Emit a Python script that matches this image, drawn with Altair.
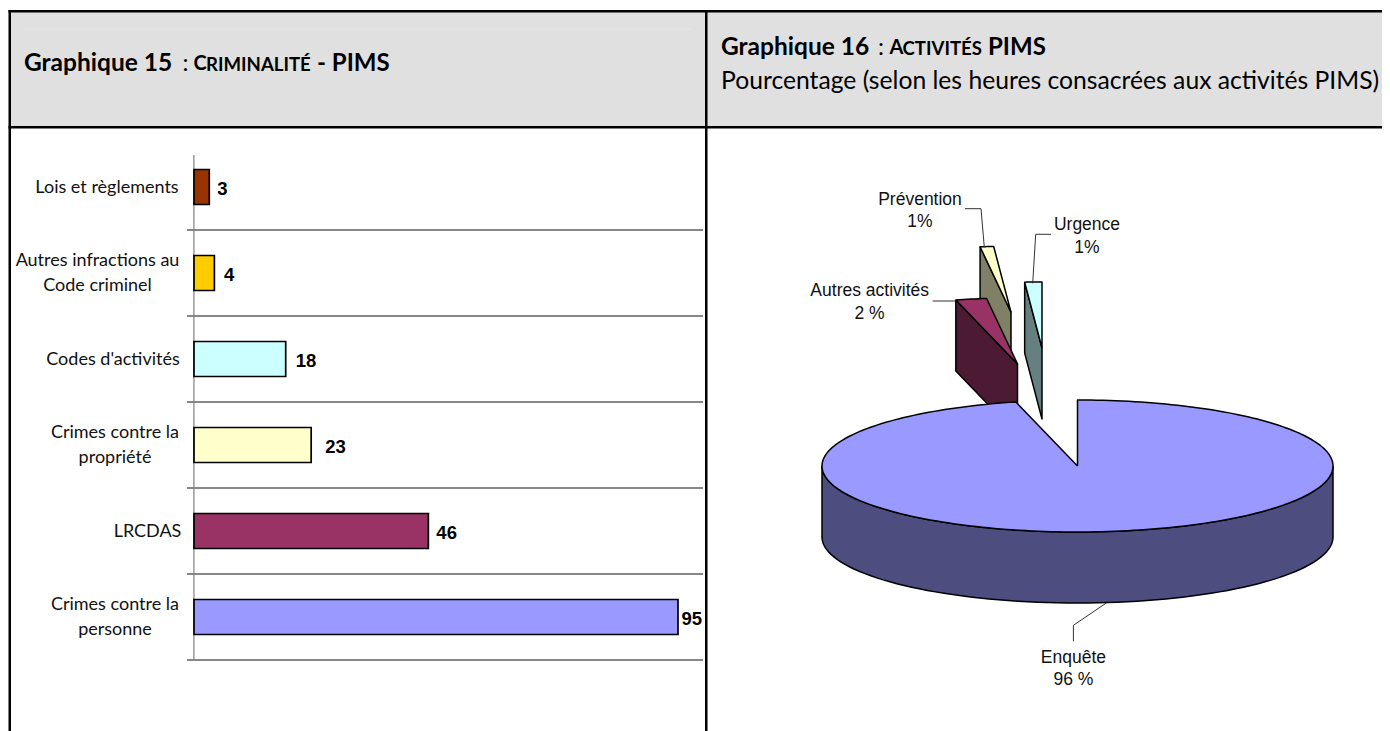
import math
import altair as alt
import pandas as pd

# ---- data ----
bar_categories = ["Lois et règlements", "Autres infractions au\nCode criminel", "Codes d'activités",
                  "Crimes contre la\npropriété", "LRCDAS", "Crimes contre la\npersonne"]
bar_values = [3, 4, 18, 23, 46, 95]
bar_colors = ["#993300", "#FFCC00", "#CCFFFF", "#FFFFCC", "#993366", "#9999FF"]
bar_label_centers = [107, 97.5, 113, 115, 147.5, 115]
bar_label_gaps = [8, 9.6, 10, 14, 8, 3.5]

pie_names = ["Enquête", "Autres activités", "Prévention", "Urgence"]
pie_values = [96.12, 1.95, 0.85, 1.08]
pie_tops = ["#9999FF", "#993366", "#FFFFCC", "#CCFFFF"]
pie_sides = ["#4D4D80", "#4D1A33", "#808066", "#668080"]

# ---- layout, in page pixels ----
OX, OY = 8, 8
W, H = 1374, 723
CX, CY, RX, RY, DEPTH = 1077.5, 466, 255.5, 66, 71
EXPLODE = [(0, 0), (-60, -102), (-66.5, -153.7), (-35.5, -118)]


def rect_layer(rows, color):
    df = pd.DataFrame(rows, columns=["x0", "x1", "y0", "y1"])
    for c in ("x0", "x1"):
        df[c] -= OX
    for c in ("y0", "y1"):
        df[c] -= OY
    return alt.Chart(df).mark_rect(color=color).encode(
        x=alt.X("x0:Q", scale=None, axis=None), x2="x1:Q",
        y=alt.Y("y0:Q", scale=None, axis=None), y2="y1:Q")


def poly_layer(points, fill, stroke="#000000", sw=1.5):
    pts = list(points) + [points[0]]
    df = pd.DataFrame({"x": [p[0] - OX for p in pts], "y": [p[1] - OY for p in pts], "i": range(len(pts))})
    return alt.Chart(df).mark_line(fill=fill, stroke=stroke, strokeWidth=sw, strokeJoin="round").encode(
        x=alt.X("x:Q", scale=None, axis=None), y=alt.Y("y:Q", scale=None, axis=None), order="i:Q")


def path_layer(points, stroke="#333333", sw=1):
    df = pd.DataFrame({"x": [p[0] - OX for p in points], "y": [p[1] - OY for p in points], "i": range(len(points))})
    return alt.Chart(df).mark_line(stroke=stroke, strokeWidth=sw).encode(
        x=alt.X("x:Q", scale=None, axis=None), y=alt.Y("y:Q", scale=None, axis=None), order="i:Q")


def text_layer(rows, font, size, weight="normal", color="#000000", align="left"):
    df = pd.DataFrame(rows, columns=["t", "x", "y"])
    df["x"] -= OX
    df["y"] -= OY
    return alt.Chart(df).mark_text(font=font, fontSize=size, fontWeight=weight, color=color,
                                   align=align, baseline="middle").encode(
        x=alt.X("x:Q", scale=None, axis=None), y=alt.Y("y:Q", scale=None, axis=None), text="t:N")


layers = []
# header bands and frame
layers.append(rect_layer([(10, 705, 12, 127), (707, 1390, 12, 127)], "#E0E0E0"))
layers.append(rect_layer([(24, 692, 28.7, 29.4)], "#E8E8E8"))
layers.append(rect_layer([(8.5, 1390, 10, 12.5), (8.5, 1390, 126, 128.5),
                          (8.5, 11, 10, 731), (705, 707.5, 10, 731)], "#000000"))

# header text
B = "Lato"
layers.append(text_layer([("Graphique 15", 24, 64), ("Graphique 16", 721, 48)], B, 24.5, "bold"))
layers.append(text_layer([(":", 182.5, 64), (":", 878, 48)], B, 24))
layers.append(text_layer([("- PIMS", 317, 64), ("PIMS", 988, 48)], B, 24, "bold"))
layers.append(text_layer([("C", 193.5, 63.5), ("A", 889.5, 47.5)], B, 20, "bold"))
layers.append(text_layer([("RIMINALITÉ", 206, 65), ("CTIVITÉS", 902.5, 49)], B, 18.6, "bold"))
layers.append(text_layer([("Pourcentage (selon les heures consacrées aux activités PIMS)", 721, 82)], B, 24.7))

# bar chart
PX_PER_UNIT = (678 - 194) / 95
bars = pd.DataFrame({"cat": bar_categories, "value": bar_values, "color": bar_colors,
                     "cx": [c - OX for c in bar_label_centers]})
bars["label_x"] = [v + g / PX_PER_UNIT for v, g in zip(bar_values, bar_label_gaps)]
x_scale = alt.Scale(domain=[0, 95], range=[194 - OX, 678 - OX], nice=False)
y_scale = alt.Scale(domain=bar_categories, range=[144 - OX, 660 - OX], paddingInner=0.593, paddingOuter=0.2965)
ycat = alt.Y("cat:N", scale=y_scale, axis=None)

layers.append(rect_layer([(187, 703, 229.6, 230.6), (187, 703, 315.6, 316.6), (187, 703, 401.6, 402.6),
                          (187, 703, 487.6, 488.6), (187, 703, 573.6, 574.6), (187, 703, 659.6, 660.6)], "#111111"))
layers.append(rect_layer([(193.3, 194.5, 155, 660)], "#808080"))
layers.append(alt.Chart(bars).mark_bar(stroke="#000000", strokeWidth=1.7).encode(
    x=alt.X("value:Q", scale=x_scale, axis=None), y=ycat,
    fill=alt.Fill("color:N", scale=None)))
layers.append(alt.Chart(bars).mark_text(
    font="Liberation Sans", fontSize=18.5, fontWeight="bold", align="left", dy=2, color="#000000").encode(
    x=alt.X("label_x:Q", scale=x_scale, axis=None), y=ycat, text="value:Q"))
layers.append(alt.Chart(bars).transform_filter("indexof(datum.cat, '\\n') < 0").mark_text(
    font=B, fontSize=18, align="center", baseline="middle", dy=1, color="#111111").encode(
    x=alt.X("cx:Q", scale=None, axis=None), y=ycat, text="cat:N"))
layers.append(alt.Chart(bars).transform_filter("indexof(datum.cat, '\\n') >= 0").mark_text(
    font=B, fontSize=18, align="center", baseline="middle", dy=-12, lineBreak="\n", lineHeight=24.5,
    color="#111111").encode(
    x=alt.X("cx:Q", scale=None, axis=None), y=ycat, text="cat:N"))


# pie: angles derive from the values
def rim(theta, cx=CX, cy=CY, dy=0):
    return (cx + RX * math.sin(theta), cy - RY * math.cos(theta) + dy)


total = sum(pie_values)
angles, a = [], 0.0
for v in pie_values:
    angles.append((a, a + v / total * 2 * math.pi))
    a += v / total * 2 * math.pi


def arc(a0, a1, cx, cy, dy=0, n=80):
    return [rim(a0 + (a1 - a0) * k / n, cx, cy, dy) for k in range(n + 1)]


for i in (2, 3, 1):  # exploded slices, back to front
    a0, a1 = angles[i]
    cx, cy = CX + EXPLODE[i][0], CY + EXPLODE[i][1]
    r0 = rim(a0, cx, cy)
    layers.append(poly_layer([r0, (r0[0], r0[1] + DEPTH), (cx, cy + DEPTH), (cx, cy)], pie_sides[i]))
    layers.append(poly_layer([(cx, cy)] + arc(a0, a1, cx, cy, n=8), pie_tops[i]))

a0, a1 = angles[0]
layers.append(poly_layer(arc(math.pi / 2, 3 * math.pi / 2, CX, CY) +
                         arc(3 * math.pi / 2, math.pi / 2, CX, CY, DEPTH), pie_sides[0]))
layers.append(poly_layer([(CX, CY)] + arc(a0, a1, CX, CY, n=240), pie_tops[0]))

# leaders
layers.append(path_layer([(965, 208.7), (981, 208.7), (984.3, 247.3)]))
layers.append(path_layer([(1051, 234.3), (1035.7, 234.3), (1032.7, 283.3)]))
layers.append(path_layer([(932.7, 301), (955.7, 301)]))
layers.append(path_layer([(1106.8, 602.7), (1073.4, 625.3), (1073.4, 641.3)]))

# pie labels
layers.append(text_layer([("Prévention", 920, 199.5), ("1%", 920, 222),
                          ("Urgence", 1087, 224.5), ("1%", 1087, 247.5),
                          ("Autres activités", 869.7, 291), ("2 %", 869.5, 314),
                          ("Enquête", 1073.4, 657.5), ("96 %", 1073.4, 679.5)],
                         "Liberation Sans", 17.5, color="#111111", align="center"))

chart = alt.layer(*layers).resolve_scale(x="independent", y="independent", color="independent").properties(
    width=W, height=H, padding=0, autosize=alt.AutoSizeParams(type="none"),
    background="#FFFFFF").configure_view(stroke=None)

chart.save("out.html", embed_options={"renderer": "svg", "actions": False})
